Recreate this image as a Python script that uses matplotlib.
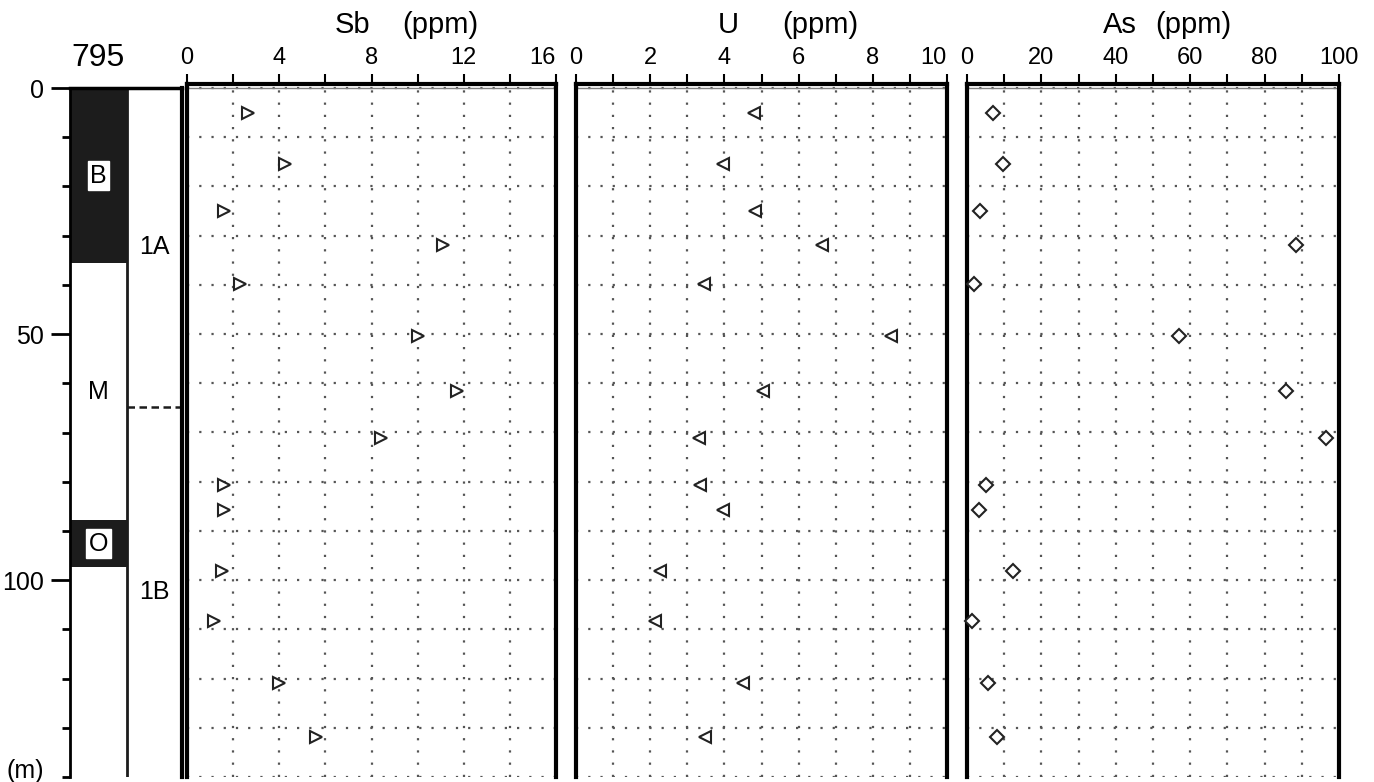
import matplotlib.pyplot as plt
from matplotlib.ticker import MultipleLocator

plt.rcParams['font.family'] = ['Liberation Sans', 'DejaVu Sans']

# sample depths (m) shared by all three panels
depth = [5.1, 15.4, 25.0, 31.9, 39.8, 50.4, 61.6, 71.1, 80.7, 85.8, 98.2, 108.3, 120.9, 131.9]
sb = [2.65, 4.25, 1.6, 11.1, 2.3, 10.0, 11.7, 8.4, 1.6, 1.6, 1.5, 1.15, 4.0, 5.6]
u = [4.8, 3.96, 4.82, 6.63, 3.45, 8.49, 5.04, 3.32, 3.34, 3.96, 2.26, 2.13, 4.5, 3.48]
as_ppm = [7.0, 9.7, 3.5, 88.4, 1.9, 57.0, 85.8, 96.5, 5.1, 3.2, 12.4, 1.3, 5.6, 8.0]

# lithology column for site 795
litho_names = ['B', 'M', 'O', '']
litho_top = [0, 35.6, 87.8, 97.4]
litho_base = [35.6, 87.8, 97.4, 140]
litho_dark = [True, False, True, False]
unit_names = ['1A', '1B']
unit_top = [0, 64.8]
unit_base = [64.8, 140]

W, H = 1374, 782
fig = plt.figure(figsize=(W / 100, H / 100), dpi=100)


def px_box(x0, y0, x1, y1):
    return [x0 / W, 1 - y1 / H, (x1 - x0) / W, (y1 - y0) / H]


# ---- lithology / unit column
axl = fig.add_axes(px_box(70, 88, 182, 777))
axl.set_xlim(0, 1)
axl.set_ylim(140, 0)
split = 57 / 112
for name, t, b, dark in zip(litho_names, litho_top, litho_base, litho_dark):
    if dark:
        axl.axhspan(t, b, xmin=0, xmax=split, color='#1c1c1c', lw=0)
    if name:
        kw = dict(fontsize=18, ha='center', va='center')
        if dark:
            kw['bbox'] = dict(boxstyle='square,pad=0.1', fc='white', ec='white')
        axl.text(split / 2, (t + b) / 2, name, **kw)
axl.axvline(split, color='#1c1c1c', lw=2)
for name, t, b in zip(unit_names, unit_top, unit_base):
    axl.text((split + 1) / 2, (t + b) / 2, name, fontsize=18, ha='center', va='center')
    if t > 0:
        axl.plot([split, 1], [t, t], color='#1c1c1c', lw=1.8, ls=(0, (3, 1.8)),
                 transform=axl.get_yaxis_transform())
axl.spines['bottom'].set_visible(False)
axl.spines['left'].set_linewidth(2)
axl.spines['right'].set_linewidth(3)
axl.spines['top'].set_linewidth(2.5)
axl.set_xticks([])
axl.yaxis.set_major_locator(MultipleLocator(50))
axl.yaxis.set_minor_locator(MultipleLocator(10))
axl.tick_params(axis='y', which='major', length=14, width=2, pad=5, labelsize=18)
axl.tick_params(axis='y', which='minor', length=6, width=2)
fig.text(98 / W, 1 - 66 / H, '795', fontsize=23, ha='center', va='baseline')
fig.text(6 / W, 1 - 771 / H, '(m)', fontsize=18, ha='left', va='center')

# ---- element panels
panels = [
    (187, 556, sb, '>', 16, 2, 4, 'Sb', 335, 402, True),
    (576, 947, u, '<', 10, 1, 2, 'U', 718, 782, True),
    (967, 1339, as_ppm, 'D', 100, 10, 20, 'As', 1103, 1155, False),
]
for x0, x1, vals, mk, xmax, step, lab_step, elem, ex, px, last_right in panels:
    ax = fig.add_axes(px_box(x0, 84, x1, 777))
    ax.set_xlim(0, xmax)
    ax.set_ylim(140, -0.8)
    ticks = list(range(0, xmax + 1, step))
    ax.set_xticks(ticks)
    ax.set_xticklabels([str(t) if t % lab_step == 0 else '' for t in ticks])
    ax.xaxis.tick_top()
    ax.tick_params(axis='x', direction='out', length=7, width=1.5, pad=4, labelsize=17)
    if last_right:
        ax.get_xticklabels()[-1].set_horizontalalignment('right')
    ax.set_yticks(range(0, 141, 10))
    ax.tick_params(axis='y', length=0, labelleft=False)
    ax.grid(True, ls=(0, (1, 4.5)), lw=1.6, color='#555555')
    ax.axhline(0, lw=1, color='0.5')
    ms = 7.5 if mk == 'D' else 9
    ax.plot(vals, depth, ls='none', marker=mk, ms=ms, mfc='white', mec='#222222',
            mew=1.5, zorder=5, clip_on=False)
    for s in ['left', 'right', 'top']:
        ax.spines[s].set_linewidth(3)
    ax.spines['bottom'].set_visible(False)
    fig.text(ex / W, 1 - 33 / H, elem, fontsize=21, ha='left', va='baseline')
    fig.text(px / W, 1 - 33 / H, '(ppm)', fontsize=21, ha='left', va='baseline')

fig.savefig('out.png', dpi=100)
